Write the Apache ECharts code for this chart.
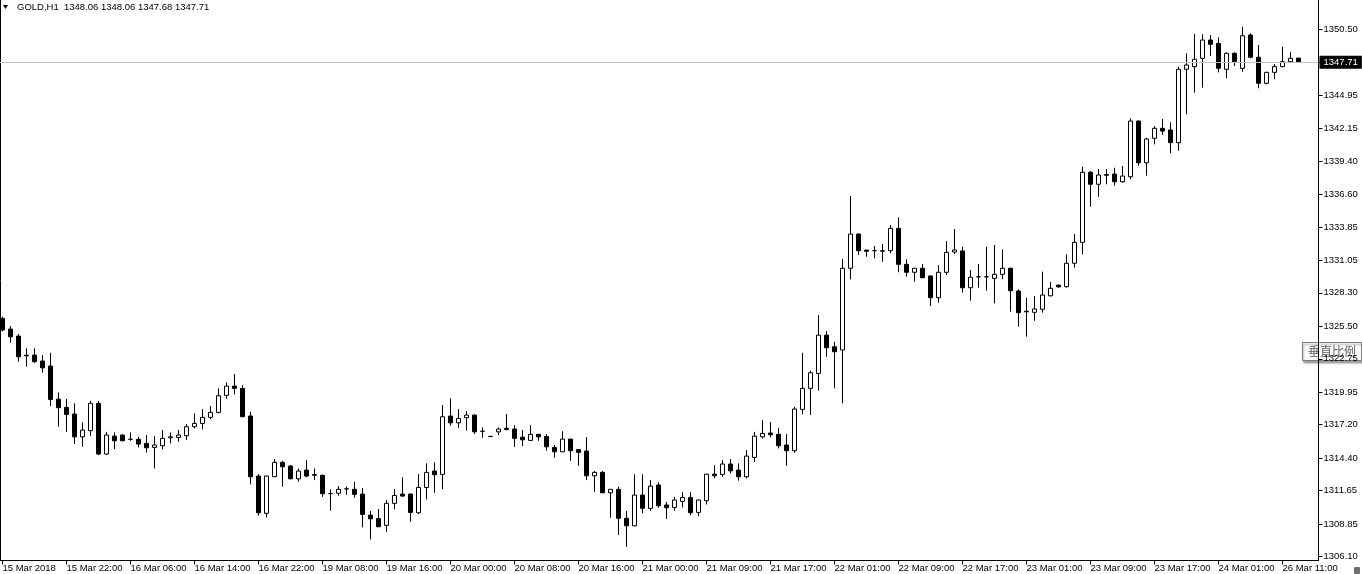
<!DOCTYPE html>
<html>
<head>
<meta charset="utf-8">
<title>GOLD,H1</title>
<script src="https://cdn.jsdelivr.net/npm/echarts@6.0.0/dist/echarts.min.js"></script>
<style>
html, body { margin: 0; padding: 0; background: #fff; }
#GoldH1 { width: 1362px; height: 574px; }
</style>
</head>
<body>
<div id="GoldH1"></div>
<script>
// GOLD H1 bars
var opens = [
	1326.15, 1325.25, 1324.66, 1323.05, 1323.06, 1322.56, 1322.14, 1319.35, 1318.66, 1318.10,
	1316.18, 1316.70, 1319.00, 1314.73, 1316.24, 1316.33, 1315.97, 1315.97, 1315.63, 1315.29,
	1315.43, 1316.10, 1316.13, 1316.27, 1317.03, 1317.31, 1317.82, 1318.24, 1319.67, 1320.45,
	1320.26, 1317.93, 1312.88, 1309.74, 1312.82, 1314.03, 1313.72, 1312.65, 1313.38, 1313.00,
	1312.94, 1311.40, 1311.43, 1311.80, 1311.76, 1311.36, 1309.59, 1309.30, 1308.73, 1310.58,
	1311.36, 1311.36, 1309.79, 1311.92, 1313.30, 1313.02, 1317.93, 1317.36, 1317.79, 1318.01,
	1316.65, 1316.22, 1316.60, 1316.90, 1316.83, 1316.15, 1315.88, 1316.39, 1316.20, 1315.29,
	1314.92, 1315.99, 1315.10, 1314.98, 1312.90, 1313.19, 1311.47, 1311.76, 1309.32, 1308.69,
	1311.28, 1310.16, 1312.12, 1310.44, 1310.24, 1310.75, 1311.08, 1309.82, 1310.80, 1313.04,
	1313.02, 1313.89, 1313.38, 1312.82, 1314.45, 1316.18, 1316.50, 1316.39, 1315.49, 1315.01,
	1318.49, 1320.26, 1321.52, 1324.74, 1323.76, 1323.49, 1330.37, 1333.25, 1331.90, 1331.85,
	1331.80, 1331.85, 1333.73, 1330.70, 1330.03, 1330.37, 1329.72, 1327.89, 1330.03, 1331.74,
	1331.83, 1328.73, 1329.65, 1329.65, 1329.52, 1329.86, 1330.37, 1328.45, 1326.75, 1326.66,
	1326.92, 1328.05, 1328.95, 1328.82, 1330.79, 1332.55, 1338.45, 1337.44, 1338.25, 1338.30,
	1337.65, 1338.07, 1342.76, 1339.25, 1341.31, 1342.15, 1342.01, 1340.94, 1347.12, 1347.34,
	1348.04, 1349.58, 1349.30, 1347.12, 1348.46, 1347.20, 1350.00, 1348.13, 1345.94, 1346.86,
	1347.34, 1347.76, 1348.06
];
var highs = [
	1326.30, 1325.50, 1324.83, 1323.63, 1323.63, 1323.06, 1323.25, 1319.92, 1319.36, 1319.00,
	1317.40, 1319.21, 1319.21, 1316.60, 1316.55, 1316.40, 1316.55, 1316.18, 1316.33, 1316.24,
	1316.75, 1316.55, 1316.75, 1317.25, 1318.15, 1318.52, 1318.77, 1320.26, 1320.76, 1321.46,
	1320.54, 1318.29, 1313.04, 1312.90, 1314.31, 1314.16, 1313.80, 1313.52, 1314.22, 1313.52,
	1313.00, 1311.76, 1312.03, 1312.00, 1312.40, 1311.87, 1309.93, 1310.10, 1310.86, 1311.78,
	1312.77, 1311.40, 1313.04, 1313.95, 1314.03, 1318.85, 1319.42, 1318.52, 1318.35, 1318.05,
	1316.98, 1316.25, 1316.98, 1318.10, 1317.17, 1316.75, 1317.17, 1316.42, 1316.41, 1315.49,
	1316.65, 1316.00, 1315.12, 1316.16, 1313.30, 1313.30, 1311.80, 1311.98, 1309.93, 1313.02,
	1313.02, 1312.54, 1312.35, 1310.71, 1311.13, 1311.53, 1311.53, 1310.90, 1313.05, 1313.80,
	1314.22, 1314.31, 1313.95, 1315.06, 1316.60, 1317.59, 1317.42, 1316.94, 1316.41, 1318.71,
	1323.25, 1321.74, 1326.43, 1325.08, 1324.18, 1331.15, 1336.45, 1333.30, 1331.92, 1332.24,
	1332.41, 1334.01, 1334.66, 1331.12, 1330.40, 1330.73, 1329.75, 1330.64, 1332.66, 1333.67,
	1332.18, 1330.22, 1330.73, 1332.18, 1332.33, 1331.96, 1330.40, 1328.60, 1327.89, 1328.03,
	1330.08, 1329.21, 1329.00, 1331.54, 1333.25, 1338.92, 1338.55, 1338.72, 1338.72, 1338.83,
	1338.98, 1342.99, 1342.80, 1341.36, 1342.34, 1342.93, 1342.65, 1347.34, 1348.46, 1350.09,
	1350.06, 1350.00, 1349.81, 1348.55, 1348.55, 1350.70, 1350.15, 1349.16, 1346.91, 1347.56,
	1349.02, 1348.55, 1348.06
];
var lows = [
	1325.05, 1324.10, 1322.50, 1322.08, 1322.41, 1321.57, 1318.77, 1317.03, 1316.60, 1315.57,
	1315.34, 1316.24, 1314.64, 1314.64, 1315.15, 1315.80, 1315.85, 1315.29, 1314.84, 1313.52,
	1315.12, 1315.63, 1315.76, 1315.90, 1316.89, 1316.80, 1317.65, 1318.15, 1319.38, 1319.75,
	1317.85, 1312.18, 1309.53, 1309.40, 1312.80, 1311.98, 1312.60, 1312.40, 1312.77, 1312.54,
	1311.13, 1309.96, 1311.22, 1311.30, 1311.05, 1308.56, 1307.55, 1308.60, 1308.16, 1310.07,
	1311.15, 1309.03, 1309.68, 1310.91, 1311.47, 1311.78, 1317.11, 1316.94, 1316.70, 1316.41,
	1316.10, 1316.17, 1316.33, 1316.72, 1315.32, 1315.40, 1315.85, 1315.85, 1315.01, 1314.42,
	1314.90, 1314.16, 1313.74, 1312.54, 1311.55, 1311.45, 1309.37, 1307.91, 1306.92, 1308.65,
	1309.74, 1309.96, 1310.21, 1309.26, 1309.96, 1310.24, 1309.59, 1309.51, 1310.49, 1312.68,
	1312.82, 1313.10, 1312.49, 1312.68, 1314.08, 1316.05, 1316.13, 1315.20, 1313.74, 1314.84,
	1318.07, 1318.01, 1320.06, 1322.92, 1320.26, 1319.00, 1329.44, 1331.48, 1331.34, 1331.21,
	1330.92, 1331.63, 1330.03, 1329.66, 1329.24, 1329.55, 1327.19, 1327.47, 1329.80, 1331.55,
	1328.31, 1327.64, 1328.73, 1328.48, 1327.42, 1329.44, 1326.71, 1325.45, 1324.61, 1325.95,
	1326.63, 1328.00, 1328.75, 1328.73, 1330.42, 1331.54, 1335.55, 1336.39, 1337.44, 1337.32,
	1337.57, 1337.86, 1339.00, 1338.16, 1340.80, 1341.59, 1340.05, 1340.26, 1343.33, 1345.15,
	1345.57, 1348.24, 1346.86, 1346.36, 1347.39, 1346.91, 1348.04, 1345.52, 1345.85, 1346.27,
	1347.28, 1347.70, 1347.68
];
var closes = [
	1325.17, 1324.60, 1322.92, 1323.00, 1322.50, 1321.99, 1319.33, 1318.63, 1318.07, 1316.18,
	1316.75, 1319.00, 1314.73, 1316.33, 1315.85, 1315.85, 1315.97, 1315.57, 1315.26, 1315.49,
	1316.05, 1316.18, 1316.33, 1317.03, 1317.31, 1317.82, 1318.24, 1319.64, 1320.45, 1320.26,
	1317.87, 1312.82, 1309.79, 1312.88, 1314.03, 1313.66, 1312.65, 1313.30, 1312.88, 1312.95,
	1311.39, 1311.40, 1311.76, 1311.80, 1311.34, 1309.65, 1309.28, 1308.61, 1310.58, 1311.25,
	1311.19, 1309.82, 1311.92, 1313.19, 1312.99, 1317.87, 1317.36, 1317.73, 1318.01, 1316.60,
	1316.65, 1316.20, 1316.83, 1316.80, 1316.05, 1315.93, 1316.39, 1316.18, 1315.34, 1314.92,
	1315.99, 1315.01, 1314.87, 1312.90, 1313.19, 1311.47, 1311.76, 1309.32, 1308.69, 1311.28,
	1310.16, 1312.03, 1310.38, 1310.21, 1310.86, 1311.08, 1309.79, 1310.86, 1313.04, 1312.90,
	1313.89, 1313.32, 1312.82, 1314.56, 1316.24, 1316.47, 1316.36, 1315.43, 1315.01, 1318.52,
	1320.26, 1321.57, 1324.74, 1323.68, 1323.34, 1330.37, 1333.25, 1331.85, 1331.80, 1331.85,
	1331.85, 1333.73, 1330.70, 1330.03, 1330.37, 1329.57, 1327.89, 1330.03, 1331.71, 1331.91,
	1328.73, 1329.61, 1329.65, 1329.65, 1329.86, 1330.37, 1328.48, 1326.63, 1326.70, 1326.94,
	1328.12, 1328.68, 1328.80, 1330.79, 1332.55, 1338.45, 1337.44, 1338.22, 1338.20, 1337.65,
	1338.13, 1342.76, 1339.25, 1341.25, 1342.15, 1341.92, 1340.94, 1347.12, 1347.48, 1347.96,
	1349.58, 1349.22, 1347.20, 1348.46, 1347.76, 1349.94, 1348.13, 1345.94, 1346.86, 1347.34,
	1347.76, 1348.04, 1347.71
];

// time scale labels, one every 8 bars
var timeTicks = [
	'15 Mar 2018', '15 Mar 22:00', '16 Mar 06:00', '16 Mar 14:00', '16 Mar 22:00',
	'19 Mar 08:00', '19 Mar 16:00', '20 Mar 00:00', '20 Mar 08:00', '20 Mar 16:00',
	'21 Mar 00:00', '21 Mar 09:00', '21 Mar 17:00', '22 Mar 01:00', '22 Mar 09:00',
	'22 Mar 17:00', '23 Mar 01:00', '23 Mar 09:00', '23 Mar 17:00', '24 Mar 01:00',
	'26 Mar 11:00'
];
// price scale labels
var priceTicks = [
	1306.10, 1308.85, 1311.65, 1314.40, 1317.20, 1319.95, 1322.75, 1325.50, 1328.30,
	1331.05, 1333.85, 1336.60, 1339.40, 1342.15, 1344.95, 1347.75, 1350.50
];
var symbolName = 'GOLD,H1';

// two empty slots on the right (chart shift)
var categorias = [];
for (var i = 0; i < closes.length + 2; i++) {
	categorias.push(i % 8 === 0 ? timeTicks[i / 8] : String(i));
}
var velas = [];
for (var j = 0; j < closes.length; j++) {
	velas.push([opens[j], closes[j], lows[j], highs[j]]);
}
var last = closes.length - 1;
var cabecera = symbolName + '  ' + opens[last].toFixed(2) + ' ' + highs[last].toFixed(2) + ' ' +
	lows[last].toFixed(2) + ' ' + closes[last].toFixed(2);

var dom = document.getElementById("GoldH1");
var myChart = echarts.init(dom);
var option = null;
option = {
	animation: false,
	backgroundColor: '#ffffff',
	textStyle: { fontFamily: 'Liberation Sans' },
	grid: {
		left: -1.5,
		top: 0,
		width: 1320,
		height: 560.5,
		containLabel: false,
		outerBoundsMode: 'none'
	},
	xAxis: {
		type: 'category',
		data: categorias,
		boundaryGap: true,
		axisLine: { show: true, lineStyle: { color: '#000', width: 1 } },
		axisTick: { show: true, interval: 7, alignWithLabel: true, length: 4, lineStyle: { color: '#000' } },
		axisLabel: {
			interval: 7,
			align: 'left',
			margin: 3,
			color: '#000',
			fontSize: 9.5,
			fontFamily: 'Liberation Sans'
		},
		splitLine: { show: false }
	},
	yAxis: {
		type: 'value',
		position: 'right',
		min: 1305.77,
		max: 1352.95,
		axisLine: { show: true, lineStyle: { color: '#000', width: 1 } },
		axisTick: { show: true, length: 4, customValues: priceTicks, lineStyle: { color: '#000' } },
		axisLabel: {
			customValues: priceTicks,
			margin: 5,
			color: '#000',
			fontSize: 9.5,
			fontFamily: 'Liberation Sans',
			formatter: function (v) { return v.toFixed(2); }
		},
		splitLine: { show: false }
	},
	series: [
	{
		name: symbolName,
		type: 'candlestick',
		data: velas,
		barWidth: 4,
		itemStyle: {
			color: '#ffffff',
			color0: '#000000',
			borderColor: '#000000',
			borderColor0: '#000000',
			borderColorDoji: '#000000',
			borderWidth: 1
		},
		markLine: {
			silent: true,
			symbol: ['none', 'none'],
			lineStyle: { color: '#c0c0c0', type: 'solid', width: 1 },
			label: {
				show: true,
				position: 'end',
				distance: 1,
				color: '#fff',
				backgroundColor: '#000',
				padding: [2, 4, 1, 4],
				fontSize: 9.5,
				fontFamily: 'Liberation Sans',
				formatter: function (p) { return p.value.toFixed(2); }
			},
			data: [{ yAxis: closes[last] }]
		}
	}
	],
	graphic: [
	{
		type: 'line',
		shape: { x1: 0.5, y1: 0, x2: 0.5, y2: 561 },
		style: { stroke: '#000', lineWidth: 1 }
	},
	{
		type: 'polygon',
		shape: { points: [[3, 5], [8, 5], [5.5, 9]] },
		style: { fill: '#000' }
	},
	{
		type: 'text',
		left: 17,
		top: 2,
		style: { text: cabecera, fill: '#000', font: '9.5px "Liberation Sans"' }
	},
	{
		type: 'group',
		left: 1302,
		top: 342,
		z: 100,
		children: [
		{
			type: 'rect',
			shape: { x: 0, y: 0, width: 59, height: 18 },
			style: { fill: '#fff', stroke: '#7c7c7c', lineWidth: 1, shadowBlur: 2, shadowOffsetX: 1, shadowOffsetY: 2, shadowColor: 'rgba(0,0,0,0.35)' }
		},
		{
			type: 'text',
			x: 29.5,
			y: 9,
			style: { text: '垂直比例', fill: '#5a5a5a', font: '12px "Noto Sans CJK SC"', align: 'center', verticalAlign: 'middle' }
		}
		]
	},
	{
		type: 'rect',
		shape: { x: 1354, y: 567, width: 6, height: 7, r: 1 },
		style: { fill: '#6e6e6e' }
	}
	]
};

if (option && typeof option === "object") {
	myChart.setOption(option, true);
}
</script>
</body>
</html>
